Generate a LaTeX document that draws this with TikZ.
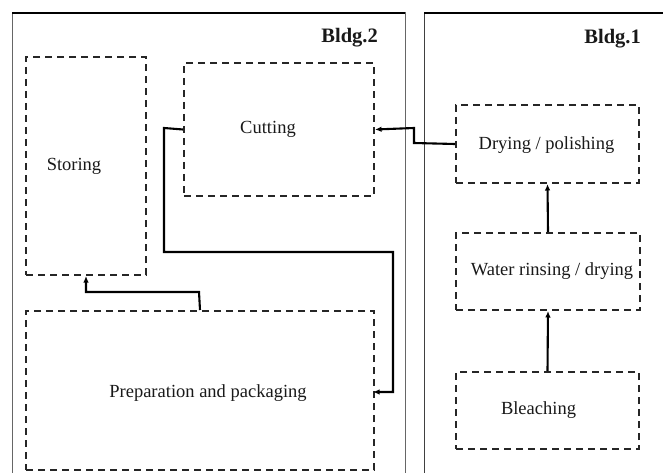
\documentclass[tikz,border=0pt]{standalone}
\usepackage{fontspec}
\setmainfont{Liberation Serif}
\usetikzlibrary{arrows.meta}
\tikzset{
  area/.style={draw=black!85, line width=2pt, dash pattern=on 7pt off 5pt, inner sep=0pt, anchor=north west},
  flow/.style={draw=black, line width=2.1pt, -{Latex[length=6.5pt,width=5.5pt]}},
  frame/.style={draw=black!60, line width=1pt},
  lbl/.style={font=\fontsize{18.5}{20}\selectfont, text=black!90},
  bldg/.style={font=\fontsize{20.5}{22}\selectfont\bfseries, text=black!90, inner sep=0pt}
}
\begin{document}
\begin{tikzpicture}[x=1pt,y=-1pt]
\useasboundingbox (0,0) rectangle (663,473);
% building frames
\draw[frame] (12,480) -- (12,13) -- (405,13) -- (405,480);
\draw[draw=black, line width=1.2pt] (12,13) -- (405,13);
\draw[frame, draw=black!75] (424,480) -- (424,13) -- (670,13);
\draw[draw=black, line width=1.2pt] (424,13) -- (670,13);
\node[bldg, anchor=base east] (b2) at (378,43) {Bldg.2};
\node[bldg, anchor=base east] (b1) at (641,44) {Bldg.1};
% areas
\node[area, minimum width=120pt, minimum height=218pt,
      label={[lbl, xshift=-12pt]center:Storing}] (store) at (25,56) {};
\node[area, minimum width=190pt, minimum height=133pt,
      label={[lbl, xshift=-11pt]center:Cutting}] (cut) at (183,62) {};
\node[area, minimum width=348pt, minimum height=159pt,
      label={[lbl, xshift=8pt, yshift=-2.5pt]center:Preparation and packaging}] (prep) at (25,310) {};
\node[area, minimum width=183pt, minimum height=78pt,
      label={[lbl, xshift=-1pt, yshift=-1pt]center:Drying / polishing}] (dry) at (455,104) {};
\node[area, minimum width=184pt, minimum height=77pt,
      label={[lbl, xshift=4pt]center:Water rinsing / drying}] (water) at (455,232) {};
\node[area, minimum width=183pt, minimum height=77pt,
      label={[lbl, xshift=-9pt]center:Bleaching}] (bleach) at (455,371) {};
% flows
\coordinate (c1) at (414,143);
\coordinate (c2) at (414,128);
\draw[flow] (dry.west) -- (c1) -- (c2) -- (cut.east);
\draw[flow] (bleach.north) -- (water.south);
\draw[flow] (water.north) -- (dry.south);
\coordinate (d1) at (164,128);
\coordinate (d2) at (164,252);
\coordinate (d3) at (393,252);
\coordinate (d4) at (393,392);
\coordinate (d5) at (373,392);
\draw[flow] (cut.west) -- (d1) -- (d2) -- (d3) -- (d4) -- (d5);
\coordinate (e1) at (199,292);
\draw[flow] (prep.north) -- (e1) -| (store.south);
\end{tikzpicture}
\end{document}
